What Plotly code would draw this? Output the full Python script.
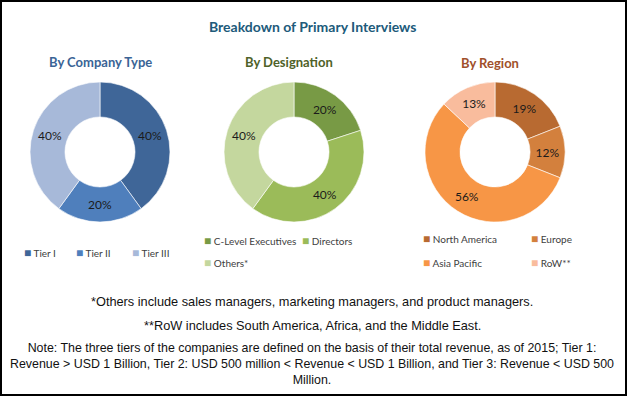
import plotly.graph_objects as go

W, H = 627, 396

# ---------------- data ----------------
company_labels = ["Tier I", "Tier II", "Tier III"]
company_values = [40, 20, 40]

designation_labels = ["C-Level Executives", "Directors", "Others*"]
designation_values = [20, 40, 40]

region_labels = ["North America", "Europe", "Asia Pacific", "RoW**"]
region_values = [19, 12, 56, 13]

title_text = "Breakdown of Primary Interviews"
subtitles = ["By Company Type", "By Designation", "By Region"]
footnote_lines = [
    "*Others include sales managers, marketing managers, and product managers.",
    "**RoW includes South America, Africa, and the Middle East.",
]
note_lines = [
    "Note: The three tiers of the companies are defined on the basis of their total revenue, as of 2015; Tier 1:",
    "Revenue > USD 1 Billion, Tier 2: USD 500 million < Revenue < USD 1 Billion, and Tier 3: Revenue < USD 500",
    "Million.",
]

# ---------------- styles ----------------
company_colors = ["#3F6698", "#4F7FBC", "#A7B9D9"]
designation_colors = ["#789A45", "#9BBB59", "#C4D79E"]
region_colors = ["#B86A31", "#D3803D", "#F79646", "#F9BC9D"]
subtitle_colors = ["#3A6496", "#4F6228", "#A0502A"]

# layout (pixel) positions
pie_centers = [(100, 152), (294, 152), (495, 152)]
pie_radius = 70
subtitle_pos = [(100, 62), (289, 62), (490, 63)]
legend_pos = [
    [(22, 253), (74, 253), (130, 253)],
    [(202, 240), (300, 240), (202, 262)],
    [(421, 239), (529, 239), (421, 262), (529, 262)],
]

LABEL_FONT = "Lato, 'Open Sans', sans-serif"
NOTE_FONT = "'Liberation Sans', Arial, sans-serif"


def esc(s):
    return s.replace("&", "&amp;").replace("<", "&lt;").replace(">", "&gt;")


def dom(cx, cy, r):
    return dict(x=[(cx - r) / W, (cx + r) / W], y=[1 - (cy + r) / H, 1 - (cy - r) / H])


fig = go.Figure()
series = [
    (company_labels, company_values, company_colors),
    (designation_labels, designation_values, designation_colors),
    (region_labels, region_values, region_colors),
]
for (labels, values, colors), (cx, cy) in zip(series, pie_centers):
    fig.add_trace(go.Pie(
        labels=labels, values=values, sort=False, direction="clockwise",
        hole=0.5, domain=dom(cx, cy, pie_radius),
        marker=dict(colors=colors, line=dict(color="rgba(255,255,255,0.6)", width=1)),
        texttemplate="%{value}%", textposition="inside",
        insidetextorientation="horizontal",
        textfont=dict(family=LABEL_FONT, size=12, color="#1b1b1b"),
        showlegend=False, hoverinfo="label+percent",
    ))

ann = []
ann.append(dict(x=312 / W, y=1 - 27 / H, xref="paper", yref="paper", text="<b>" + title_text + "</b>",
                showarrow=False, xanchor="center", yanchor="middle",
                font=dict(family=LABEL_FONT, size=14, color="#205A7A")))
for s, (x, y), c in zip(subtitles, subtitle_pos, subtitle_colors):
    ann.append(dict(x=x / W, y=1 - y / H, xref="paper", yref="paper", text="<b>" + s + "</b>",
                    showarrow=False, xanchor="center", yanchor="middle",
                    font=dict(family=LABEL_FONT, size=13, color=c)))

for (labels, values, colors), positions in zip(series, legend_pos):
    for lab, col, (x, y) in zip(labels, colors, positions):
        ann.append(dict(x=x / W, y=1 - y / H, xref="paper", yref="paper",
                        text="<span style='color:%s;font-size:12px'>■</span> %s" % (col, esc(lab)),
                        showarrow=False, xanchor="left", yanchor="middle",
                        font=dict(family=LABEL_FONT, size=10, color="#404040")))

for line, y in zip(footnote_lines, [301, 325]):
    ann.append(dict(x=312 / W, y=1 - y / H, xref="paper", yref="paper", text=esc(line),
                    showarrow=False, xanchor="center", yanchor="middle",
                    font=dict(family=NOTE_FONT, size=12.75, color="#111111")))
ann.append(dict(x=312 / W, y=1 - 364 / H, xref="paper", yref="paper",
                text="<br>".join(esc(l) for l in note_lines),
                showarrow=False, xanchor="center", yanchor="middle", align="center",
                font=dict(family=NOTE_FONT, size=12.4, color="#111111")))

fig.update_layout(
    width=W, height=H, margin=dict(l=0, r=0, t=0, b=0),
    paper_bgcolor="white", plot_bgcolor="white",
    annotations=ann,
    shapes=[dict(type="rect", xref="paper", yref="paper",
                 x0=1 / W, x1=1 - 1 / W, y0=1 / H, y1=1 - 1 / H,
                 line=dict(color="#000000", width=2))],
)

fig.write_html("out.html", config={"displayModeBar": False},
               post_script="document.body.style.margin='0';document.body.style.padding='0';document.body.style.overflow='hidden';")
